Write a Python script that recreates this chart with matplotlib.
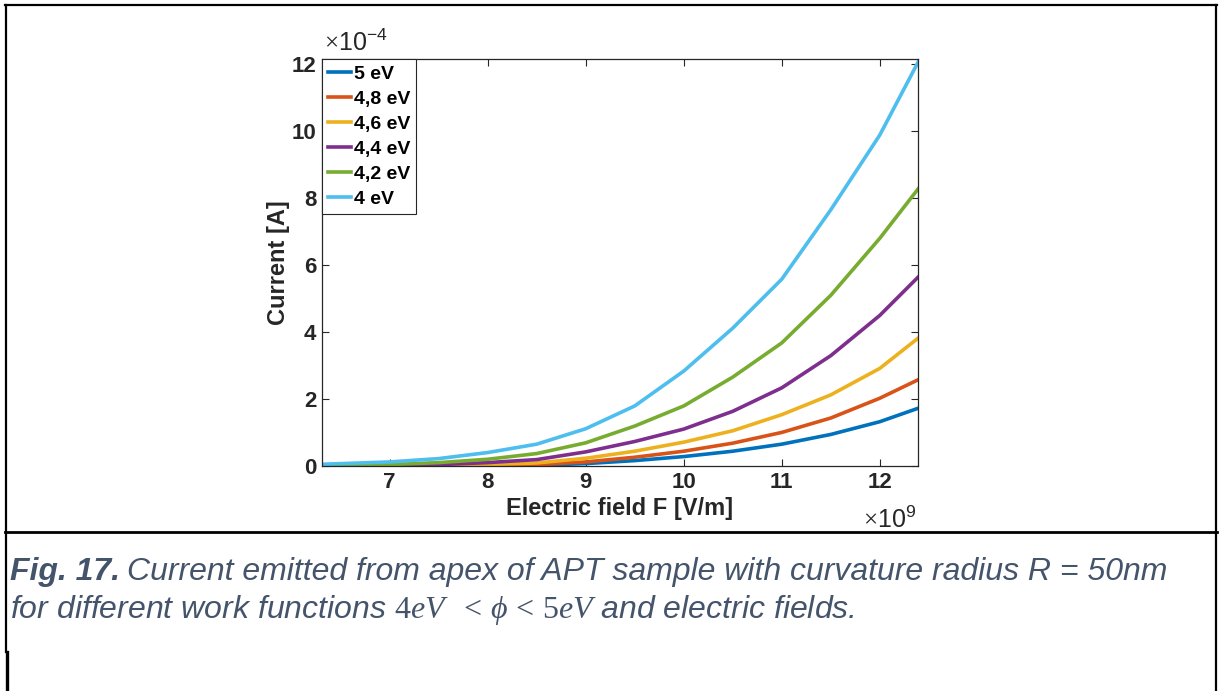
import matplotlib
matplotlib.use('Agg')
import matplotlib.pyplot as plt
from matplotlib.lines import Line2D

plt.rcParams['font.family'] = ['Liberation Sans', 'DejaVu Sans']
plt.rcParams['mathtext.fontset'] = 'custom'
plt.rcParams['mathtext.rm'] = 'Liberation Serif'
plt.rcParams['mathtext.it'] = 'Liberation Serif:italic'
plt.rcParams['mathtext.sf'] = 'Liberation Sans'

# electric field [1e9 V/m]
field = [6.31, 7.0, 7.5, 8.0, 8.5, 9.0, 9.5, 10.0, 10.5, 11.0, 11.5, 12.0, 12.39]

# current [1e-4 A] for each work function
cur_50 = [0.0, 0.0, 0.005, 0.01, 0.03, 0.08, 0.17, 0.29, 0.45, 0.66, 0.95, 1.33, 1.73]
cur_48 = [0.0, 0.005, 0.01, 0.02, 0.05, 0.13, 0.27, 0.45, 0.69, 1.01, 1.44, 2.03, 2.58]
cur_46 = [0.0, 0.01, 0.02, 0.05, 0.10, 0.24, 0.45, 0.72, 1.06, 1.54, 2.13, 2.92, 3.82]
cur_44 = [0.0, 0.02, 0.05, 0.11, 0.20, 0.43, 0.74, 1.11, 1.64, 2.34, 3.30, 4.50, 5.64]
cur_42 = [0.01, 0.05, 0.11, 0.21, 0.38, 0.70, 1.20, 1.80, 2.66, 3.68, 5.10, 6.80, 8.27]
cur_40 = [0.06, 0.13, 0.23, 0.41, 0.66, 1.12, 1.80, 2.84, 4.12, 5.58, 7.65, 9.88, 12.05]

series = [cur_50, cur_48, cur_46, cur_44, cur_42, cur_40]
labels = ['5 eV', '4,8 eV', '4,6 eV', '4,4 eV', '4,2 eV', '4 eV']
colors = ['#0072BD', '#D95319', '#EDB120', '#7E2F8E', '#77AC30', '#4DBEEE']

W, H = 1219, 691
fig = plt.figure(figsize=(W / 100, H / 100), dpi=100)
ax = fig.add_axes([322 / W, 1 - 466.3 / H, 596 / W, 407 / H])

for y, lab, c in zip(series, labels, colors):
    ax.plot(field, y, color=c, linewidth=2.6, label=lab)

ax.set_xlim(field[0], field[-1])
ax.set_ylim(0, 12.14)
ax.set_xticks([7, 8, 9, 10, 11, 12])
ax.set_yticks([0, 2, 4, 6, 8, 10, 12])

dark = '#262626'
for s in ax.spines.values():
    s.set_color(dark)
    s.set_linewidth(0.9)
ax.tick_params(direction='in', top=True, right=True, length=5, width=0.8,
               colors=dark, labelsize=16, pad=4)
for t in ax.get_xticklabels() + ax.get_yticklabels():
    t.set_fontweight('bold')

ax.set_xlabel('Electric field F [V/m]', fontsize=17, fontweight='bold', color=dark, labelpad=3)
ax.set_ylabel('Current [A]', fontsize=17, fontweight='bold', color=dark, labelpad=1)

ax.text(0.003, 1.008, r'$\times\mathsf{10^{-4}}$', transform=ax.transAxes,
        fontsize=18, color=dark, ha='left', va='bottom')
ax.text(0.997, -0.1, r'$\times\mathsf{10^{9}}$', transform=ax.transAxes,
        fontsize=18, color=dark, ha='right', va='top')

leg = ax.legend(loc='upper left', bbox_to_anchor=(0, 1), borderaxespad=0,
                fancybox=False, framealpha=1, edgecolor=dark,
                prop={'weight': 'bold', 'size': 14}, handlelength=1.2,
                handletextpad=0.15, labelspacing=0.38, borderpad=0.3)
leg.get_frame().set_linewidth(0.8)

# page frame around figure and caption
def fline(x0, y0, x1, y1, lw=1.6):
    fig.add_artist(Line2D([x0 / W, x1 / W], [1 - y0 / H, 1 - y1 / H],
                          color='black', linewidth=lw, transform=fig.transFigure))

fline(5, 5, 1217, 5)
fline(6, 5, 6, 652)
fline(6.5, 652, 6.5, 691, lw=2.4)
fline(1216, 5, 1216, 691)
fline(5, 532, 1217, 532, lw=2.0)

cap = '#44546A'
fs = 23
renderer = fig.canvas.get_renderer()
t1 = fig.text(10 / W, 1 - 572 / H, 'Fig. 17.', fontsize=fs, fontstyle='italic',
              fontweight='bold', color=cap, va='center', ha='left')
x_end = t1.get_window_extent(renderer).x1
fig.text((x_end + 7) / W, 1 - 572 / H,
         'Current emitted from apex of APT sample with curvature radius R = 50nm',
         fontsize=fs, fontstyle='italic', color=cap, va='center', ha='left')
fig.text(10 / W, 1 - 610 / H,
         r'for different work functions $4eV\ \ <\,\phi\,<\,5eV$ and electric fields.',
         fontsize=fs, fontstyle='italic', color=cap, va='center', ha='left')

fig.savefig('out.png', dpi=100)
